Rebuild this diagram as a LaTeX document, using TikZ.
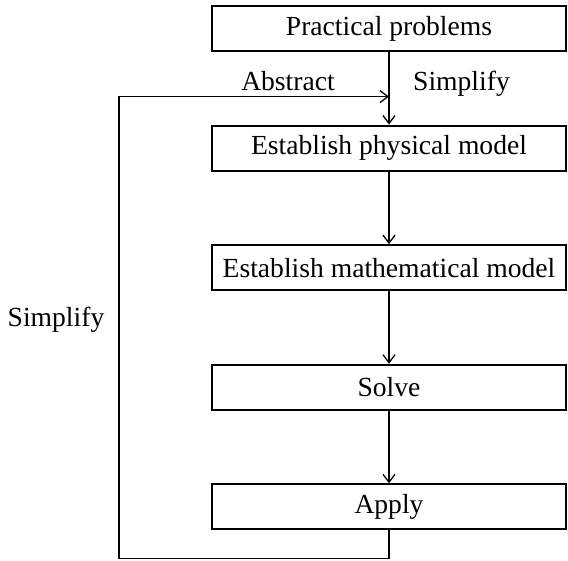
\documentclass[tikz,border=0pt]{standalone}
\usepackage{fontspec}
\setmainfont{Liberation Serif}
\usepackage{tikz}
\usetikzlibrary{arrows.meta, positioning}

\tikzset{
    stepbox/.style={draw, rectangle, line width=2pt, minimum width=354pt, minimum height=45pt, inner sep=0pt},
    flow/.style={-{Straight Barb[length=8pt, width=12pt]}, line width=1.3pt},
    tag/.style={inner sep=0pt, anchor=base}
}

\begin{document}
\begin{tikzpicture}[node distance=72.6pt, font=\fontsize{27.6}{32}\selectfont]
    \useasboundingbox (0,0) rectangle (568pt,-561pt);

    \node (prac) [stepbox] at (389pt,-28.5pt) {Practical problems};
    \node (phys) [stepbox, below=of prac] {Establish physical model};
    \node (math) [stepbox, below=of phys] {Establish mathematical model};
    \node (solve) [stepbox, below=of math] {Solve};
    \node (apply) [stepbox, below=of solve] {Apply};

    % Labels on the first step
    \node (abstr) [tag] at (288pt,-91pt) {Abstract};
    \node (simp) [tag] at (461.5pt,-91pt) {Simplify};
    \node (simpback) [tag] at (56pt,-327pt) {Simplify};

    % Main chain
    \draw[flow] (prac) -- (phys);
    \draw[flow] (phys) -- (math);
    \draw[flow] (math) -- (solve);
    \draw[flow] (solve) -- (apply);

    % Feedback loop
    \coordinate (merge) at ([yshift=28pt]phys.north);
    \coordinate (turn) at ([yshift=-28pt]apply.south);
    \draw[flow] (apply.south) -- (turn) -| ([xshift=-270pt]merge) -- (merge);
\end{tikzpicture}
\end{document}
